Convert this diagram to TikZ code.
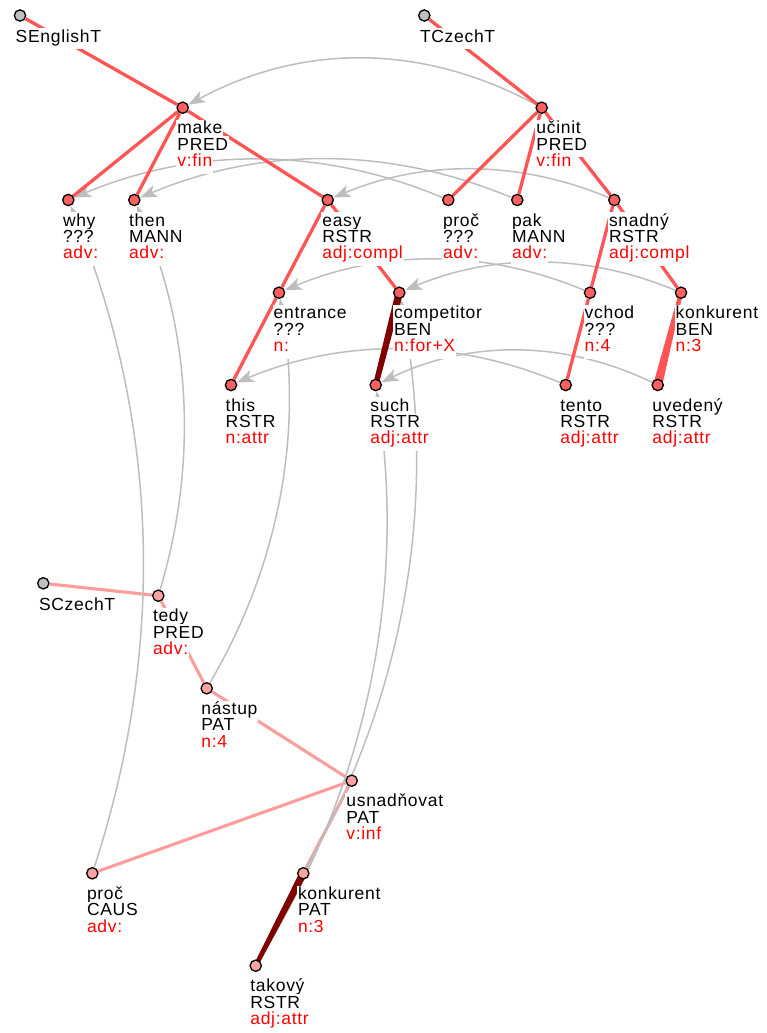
\documentclass[tikz,border=0pt]{standalone}
\usepackage{fontspec}
\setmainfont{Liberation Sans}[LetterSpace=4]
\usetikzlibrary{calc,arrows.meta}
\pgfdeclarelayer{bg}
\pgfsetlayers{bg,main}
\definecolor{tred}{HTML}{FF6060}
\definecolor{ered}{HTML}{FF5555}
\definecolor{spink}{HTML}{FFA3A3}
\definecolor{epink}{HTML}{FF9C9C}
\definecolor{rootgray}{HTML}{BFBFBF}
\definecolor{agray}{HTML}{BDBDBD}
\definecolor{dred}{HTML}{800000}
\definecolor{lred}{HTML}{FF0000}
\newcommand\tnode[7]{%
  \node[#1] (#2) at (#3,#4) {};
  \node[lab] (#2-a) at (#3-6.5,#4+26.2) {#5};
  \node[lab] (#2-b) at (#3-6.5,#4+42.5) {#6};
  \node[lab,text=lred] (#2-c) at (#3-6.5,#4+58.8) {#7};
}
\newcommand\rootnode[4]{%
  \node[rn] (#1) at (#2,#3) {};
  \node[lab] (#1-a) at (#2-5.5,#3+27) {#4};
}
\newcommand\alink[3][0.42]{%
  \coordinate (M) at ($(#2)!0.5!(#3)$);
  \coordinate (Q) at ($(M)!#1!-90:(#3)$);
  \draw[alnk] (#2) .. controls ($(#2)!0.6667!(Q)$) and ($(#3)!0.6667!(Q)$) .. (#3);
}
\newcommand\twedge[5]{%
  \fill[#1] ($(#2)!#4!90:(#3)$) -- ($(#3)!#5!-90:(#2)$) -- ($(#3)!#5!90:(#2)$) -- ($(#2)!#4!-90:(#3)$) -- cycle;
}
\begin{document}
\begin{tikzpicture}[x=1pt,y=-1pt,
  tn/.style={circle,draw=black,line width=1.3pt,fill=tred,minimum size=11.3pt,inner sep=0pt},
  rn/.style={tn,fill=rootgray},
  sn/.style={tn,fill=spink},
  lab/.style={fill=white,inner xsep=1pt,inner ysep=0pt,text height=14pt,text depth=7pt,anchor=base west,font=\fontsize{17.5}{16}\selectfont},
  tedge/.style={draw=ered,line width=3.3pt},
  sedge/.style={draw=epink,line width=3.1pt},
  alnk/.style={draw=agray,line width=1.5pt,-{Stealth[length=17pt,width=12.5pt,inset=4.5pt]}}]
\useasboundingbox (0,0) rectangle (766,1033);
% roots
\rootnode{SE}{20}{15.5}{SEnglishT}
\rootnode{TC}{424.3}{15.5}{TCzechT}
\rootnode{SC}{43.3}{583.3}{SCzechT}
% English tree
\tnode{tn}{make}{182.7}{107.7}{make}{PRED}{v:fin}
\tnode{tn}{why}{68.3}{200}{why}{???}{adv:}
\tnode{tn}{then}{134.3}{200}{then}{MANN}{adv:}
\tnode{tn}{easy}{327.7}{200}{easy}{RSTR}{adj:compl}
\tnode{tn}{entrance}{279}{292.7}{entrance}{???}{n:}
\tnode{tn}{competitor}{399.3}{292.7}{competitor}{BEN}{n:for+X}
\tnode{tn}{this}{231}{385}{this}{RSTR}{n:attr}
\tnode{tn}{such}{375.7}{385}{such}{RSTR}{adj:attr}
% Czech tree
\tnode{tn}{ucinit}{541.7}{107.7}{učinit}{PRED}{v:fin}
\tnode{tn}{proc1}{448.3}{200}{proč}{???}{adv:}
\tnode{tn}{pak}{517.3}{200}{pak}{MANN}{adv:}
\tnode{tn}{snadny}{614.3}{200}{snadný}{RSTR}{adj:compl}
\tnode{tn}{vchod}{590}{292.7}{vchod}{???}{n:4}
\tnode{tn}{konk1}{681}{292.7}{konkurent}{BEN}{n:3}
\tnode{tn}{tento}{565.7}{385}{tento}{RSTR}{adj:attr}
\tnode{tn}{uvedeny}{657.7}{385}{uvedený}{RSTR}{adj:attr}
% source Czech tree
\tnode{sn}{tedy}{158.3}{595.7}{tedy}{PRED}{adv:}
\tnode{sn}{nastup}{206.7}{688.3}{nástup}{PAT}{n:4}
\tnode{sn}{usnad}{351.7}{780.7}{usnadňovat}{PAT}{v:inf}
\tnode{sn}{proc2}{92.3}{873.3}{proč}{CAUS}{adv:}
\tnode{sn}{konk2}{303.3}{873.3}{konkurent}{PAT}{n:3}
\tnode{sn}{takovy}{255.7}{965.7}{takový}{RSTR}{adj:attr}
\begin{pgfonlayer}{bg}
  % source Czech tree edges
  \draw[sedge] (SC) -- (tedy);
  \draw[sedge] (tedy) -- (nastup);
  \draw[sedge] (nastup) -- (usnad);
  \draw[sedge] (usnad) -- (proc2);
  \draw[sedge] (usnad) -- (konk2);
  \draw[sedge] (konk2) -- (takovy);
  % alignment links
  \alink[0.54]{ucinit}{make}
  \alink{proc1}{why}
  \alink{pak}{then}
  \alink{snadny}{easy}
  \alink{vchod}{entrance}
  \alink{konk1}{competitor}
  \alink{tento}{this}
  \alink[0.48]{uvedeny}{such}
  \alink[0.366]{proc2}{why}
  \alink[0.366]{tedy}{then}
  \alink[0.366]{nastup}{entrance}
  \alink[0.366]{konk2}{competitor}
  \alink[0.366]{takovy}{such}
  % tree edges
  \draw[tedge] (SE) -- (make);
  \draw[tedge] (make) -- (why);
  \draw[tedge] (make) -- (then);
  \draw[tedge] (make) -- (easy);
  \draw[tedge] (easy) -- (entrance);
  \draw[tedge] (entrance) -- (this);
  \draw[tedge] (easy) -- (competitor);
  \draw[tedge] (TC) -- (ucinit);
  \draw[tedge] (ucinit) -- (proc1);
  \draw[tedge] (ucinit) -- (pak);
  \draw[tedge] (ucinit) -- (snadny);
  \draw[tedge] (snadny) -- (vchod);
  \draw[tedge] (vchod) -- (tento);
  \draw[tedge] (snadny) -- (konk1);
  % special thick edges
  \twedge{dred}{competitor}{such}{3.7pt}{2.7pt}
  \twedge{ered}{konk1}{uvedeny}{2pt}{4.5pt}
  \twedge{dred}{konk2}{takovy}{3.7pt}{2.2pt}
\end{pgfonlayer}
\end{tikzpicture}
\end{document}
